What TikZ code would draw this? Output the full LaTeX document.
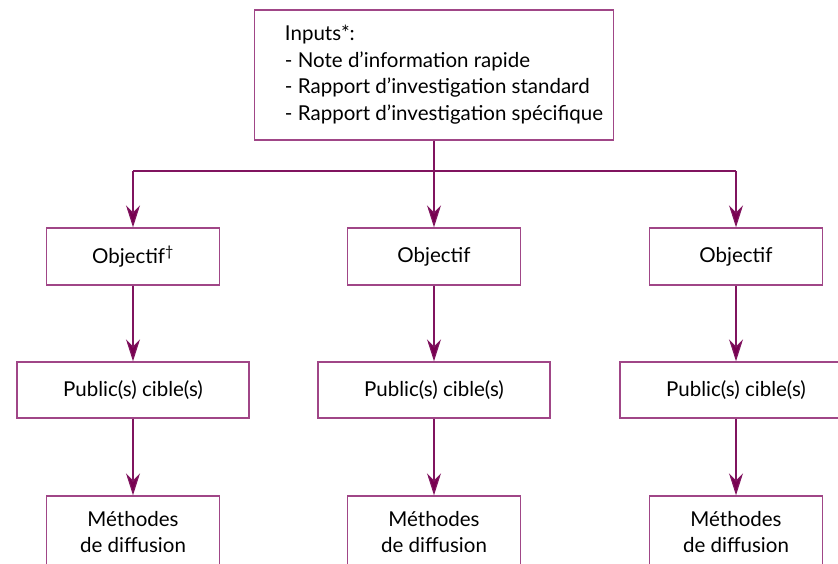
\documentclass[tikz,border=0pt]{standalone}
\usepackage{fontspec}
\setmainfont{Lato}
\usepackage{xcolor}
\usetikzlibrary{arrows.meta,positioning,calc}
\definecolor{plumline}{RGB}{128,20,95}
\definecolor{plumbox}{RGB}{160,70,135}
\definecolor{plumtip}{RGB}{120,0,80}
\tikzset{
  boxnode/.style={draw=plumbox, line width=1.4pt, fill=white, inner sep=0pt, align=center},
  arr/.style={draw=plumline, line width=1.2pt, -{Stealth[length=22pt, width=14pt, inset=7pt, fill=plumtip]}},
  link/.style={draw=plumline, line width=1.2pt}
}
\begin{document}
\begin{tikzpicture}[x=1pt,y=-1pt,font=\fontsize{20.5}{26.5}\selectfont]
\useasboundingbox (0,0) rectangle (838,563);
\clip (0,0) rectangle (838,563);
% inputs box
\node[boxnode, minimum width=359pt, minimum height=130pt] (inputs) at (434,75)
  {\begin{tabular}{@{\hspace{20pt}}l@{}}Inputs*:\\- Note d’information rapide\\- Rapport d’investigation standard\\- Rapport d’investigation spécifique\end{tabular}};
% three columns
\foreach \i/\x in {1/133,2/434,3/736}{
  \node[boxnode, minimum width=173pt, minimum height=57pt] (obj\i) at (\x,256.5) {Objectif\ifnum\i=1\textsuperscript{†}\fi};
  \node[boxnode, minimum width=232pt, minimum height=56pt] (pub\i) at (\x,390) {Public(s) cible(s)};
  \node[boxnode, minimum width=173pt, minimum height=72pt] (meth\i) at (\x,532) {Méthodes\\de diffusion};
}
% distribution line
\coordinate (split) at (434,171);
\draw[link] (inputs.south) -- (split);
\draw[link] (split -| obj1) -- (split -| obj3);
\foreach \i in {1,2,3}{
  \draw[arr] (split -| obj\i) -- (obj\i.north);
  \draw[arr] (obj\i.south) -- (pub\i.north);
  \draw[arr] (pub\i.south) -- (meth\i.north);
}
\end{tikzpicture}
\end{document}
